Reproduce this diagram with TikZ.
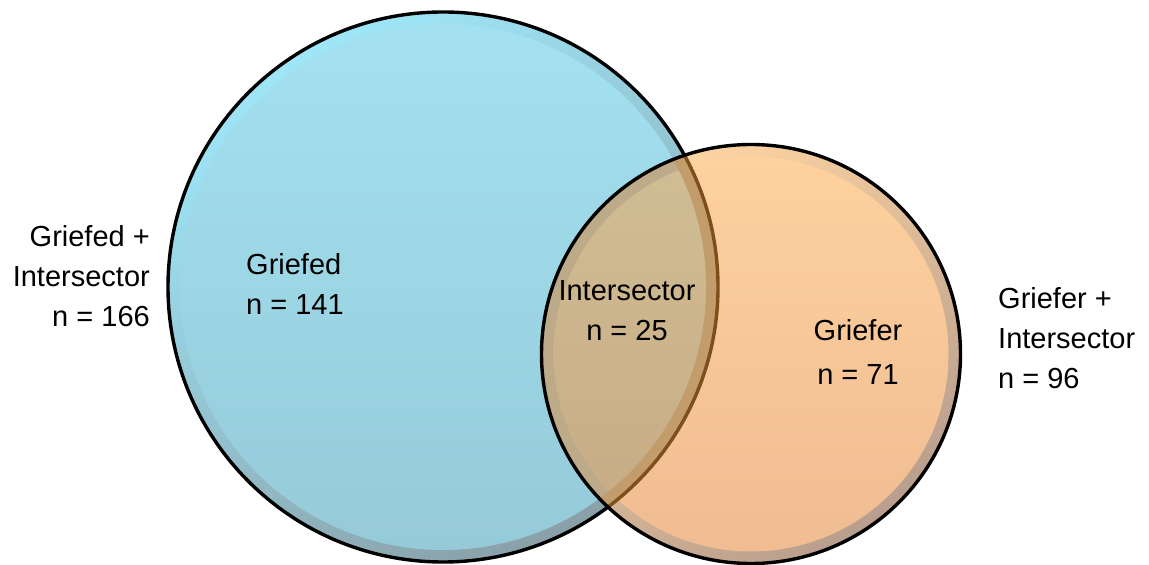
\documentclass[tikz,border=0pt]{standalone}
\usepackage{fontspec}
\setmainfont{Liberation Sans}
\begin{document}
\begin{tikzpicture}[x=1pt,y=1pt,
  lbl/.style={inner sep=0pt, font=\fontsize{29}{40}\selectfont, text=black},
  ring/.style={line width=3.4pt}]
\definecolor{blueTop}{HTML}{A3E1F1}
\definecolor{blueBot}{HTML}{96CAD8}
\definecolor{blueRimTop}{HTML}{9EE6F8}
\definecolor{blueRimBot}{HTML}{8AA0A8}
\definecolor{orTop}{HTML}{FED19E}
\definecolor{orBot}{HTML}{F0BC92}
\definecolor{orRimTop}{HTML}{FFD5A2}
\definecolor{orRimBot}{HTML}{B89E8E}
\definecolor{midTop}{HTML}{D4C49A}
\definecolor{midBot}{HTML}{C6AA84}
\definecolor{midRimB}{HTML}{C29C6A}
\definecolor{midRimO}{HTML}{BDAA88}
\definecolor{edgeBrown}{HTML}{7E4E1C}
\useasboundingbox (0,0) rectangle (1149,565);
% circle centres and radii
\coordinate (cb) at (443,278);
\coordinate (co) at (751,211);
\def\rb{275pt}\def\rbi{263pt}
\def\ro{209.5pt}\def\roi{197.5pt}
% blue set: rim and body
\shade[top color=blueRimTop, bottom color=blueRimBot, shading angle=30] (cb) circle[radius=\rb];
\shade[top color=blueTop, bottom color=blueBot] (cb) circle[radius=\rbi];
\draw[ring, black] (cb) circle[radius=\rb];
% orange set: rim and body
\shade[top color=orRimTop, bottom color=orRimBot, shading angle=35] (co) circle[radius=\ro];
\shade[top color=orTop, bottom color=orBot] (co) circle[radius=\roi];
% overlap region
\begin{scope}
  \clip (co) circle[radius=\ro];
  \fill[midRimB] (cb) circle[radius=\rb];
\end{scope}
\begin{scope}
  \clip (cb) circle[radius=\rbi];
  \fill[midRimO] (co) circle[radius=\ro];
  \clip (co) circle[radius=\roi];
  \shade[top color=midTop, bottom color=midBot] (cb) circle[radius=\rbi];
\end{scope}
\begin{scope}
  \clip (co) circle[radius=\ro];
  \draw[ring, edgeBrown] (cb) circle[radius=\rb];
\end{scope}
\draw[ring, black] (co) circle[radius=\ro];
% labels
\node[lbl, align=right, anchor=east] (leftlbl) at (150,289) {Griefed +\\Intersector\\n = 166};
\node[lbl, align=left, anchor=west] (griefed) at (246,281) {Griefed\\n = 141};
\node[lbl, align=center] (inter) at (627,254) {Intersector\\n = 25};
\node[lbl, align=center] (griefer) at (858,213) {Griefer\\[4pt]n = 71};
\node[lbl, align=left, anchor=west] (rightlbl) at (998,227) {Griefer +\\Intersector\\n = 96};
\end{tikzpicture}
\end{document}
